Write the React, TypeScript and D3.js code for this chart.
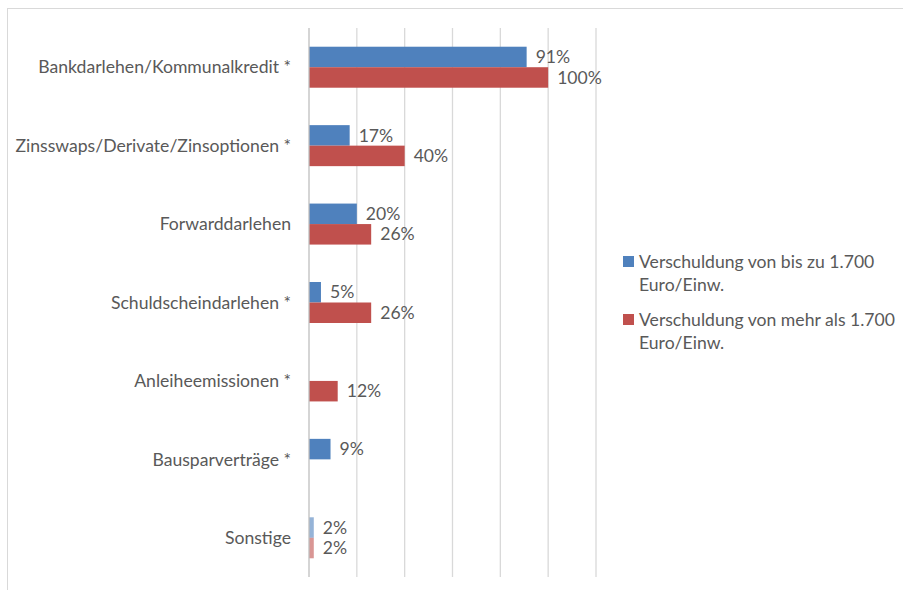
import * as d3 from "d3";

const categories = [
  "Bankdarlehen/Kommunalkredit *",
  "Zinsswaps/Derivate/Zinsoptionen *",
  "Forwarddarlehen",
  "Schuldscheindarlehen *",
  "Anleiheemissionen *",
  "Bausparverträge *",
  "Sonstige",
];
const seriesNames = [
  ["Verschuldung von bis zu 1.700", "Euro/Einw."],
  ["Verschuldung von mehr als 1.700", "Euro/Einw."],
];
const lowDebt = [0.91, 0.17, 0.2, 0.05, null, 0.09, 0.02];
const highDebt = [1.0, 0.4, 0.26, 0.26, 0.12, null, 0.02];
const xTicks = [0, 0.2, 0.4, 0.6, 0.8, 1.0, 1.2];

const colors = ["#4f81bd", "#c0504d"];
const font = "Lato, 'Open Sans', sans-serif";
const fontSize = 17.6;
const textColor = "#595959";

export default function App() {
  const width = 903;
  const height = 590;
  const plot = { left: 309, right: 596, top: 28, bottom: 577 };

  const x = d3.scaleLinear().domain([0, 1.2]).range([plot.left, plot.right]);
  const y = d3.scaleBand<string>().domain(categories).range([plot.top, plot.bottom]);
  const barGroup = 41;
  const inner = d3
    .scaleBand<number>()
    .domain([0, 1])
    .range([(y.bandwidth() - barGroup) / 2, (y.bandwidth() + barGroup) / 2]);

  const series = [lowDebt, highDebt];
  const fmt = d3.format(".0%");

  return (
    <div style={{ position: "fixed", left: 0, top: 0 }}>
      <svg width={width} height={height} style={{ display: "block", background: "#fff" }}>
        <rect x={7.5} y={8.5} width={width + 10} height={height + 10} fill="#fff" stroke="#d9d9d9" />

        {xTicks.slice(1).map((t) => (
          <line key={t} x1={x(t)} x2={x(t)} y1={plot.top} y2={plot.bottom} stroke="#d9d9d9" strokeWidth={1.3} />
        ))}

        {series.map((vals, si) =>
          vals.map((v, ci) =>
            v == null ? null : (
              <g key={`${si}-${ci}`}>
                <rect
                  x={x(0)}
                  y={(y(categories[ci]) ?? 0) + (inner(si) ?? 0)}
                  width={x(v) - x(0)}
                  height={inner.bandwidth()}
                  fill={colors[si]}
                  fillOpacity={categories[ci] === "Sonstige" ? 0.6 : 1}
                />
                <text
                  x={x(v) + 9}
                  y={(y(categories[ci]) ?? 0) + (inner(si) ?? 0) + inner.bandwidth() / 2}
                  dy="0.35em"
                  fontFamily={font}
                  fontSize={fontSize}
                  fill={textColor}
                >
                  {fmt(v)}
                </text>
              </g>
            )
          )
        )}

        <line x1={x(0)} x2={x(0)} y1={plot.top} y2={plot.bottom} stroke="#bfbfbf" strokeWidth={1.3} />

        {categories.map((c) => (
          <text
            key={c}
            x={291}
            y={(y(c) ?? 0) + y.bandwidth() / 2}
            dy="0.35em"
            textAnchor="end"
            fontFamily={font}
            fontSize={fontSize}
            fill={textColor}
          >
            {c}
          </text>
        ))}

        {seriesNames.map((lines, i) => {
          const top = 262 + i * 58;
          return (
            <g key={i}>
              <rect x={623} y={top - 6} width={11} height={11} fill={colors[i]} />
              {lines.map((ln, j) => (
                <text
                  key={j}
                  x={639}
                  y={top + j * 22.5}
                  dy="0.35em"
                  fontFamily={font}
                  fontSize={fontSize}
                  fill={textColor}
                >
                  {ln}
                </text>
              ))}
            </g>
          );
        })}
      </svg>
    </div>
  );
}
